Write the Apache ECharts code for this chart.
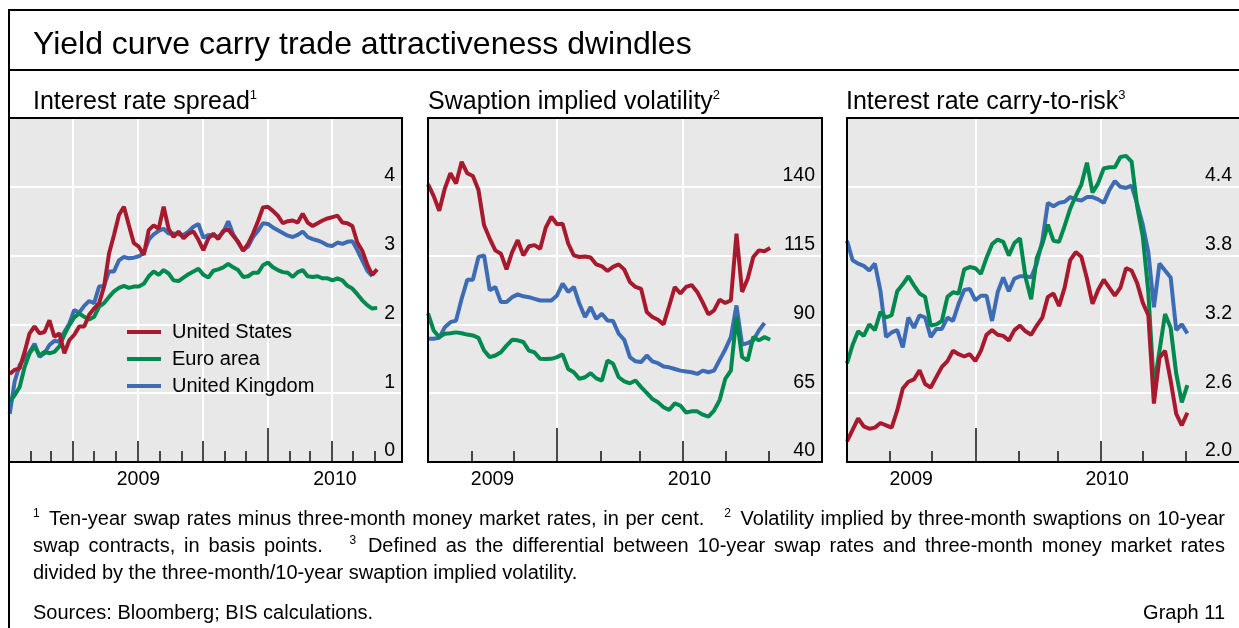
<!DOCTYPE html>
<html>
<head>
<meta charset="utf-8">
<script src="https://cdn.jsdelivr.net/npm/echarts@6.0.0/dist/echarts.min.js"></script>
<style>
  html, body { margin: 0; padding: 0; background: #fff; }
  body { width: 1239px; height: 628px; overflow: hidden; position: relative;
         font-family: "Liberation Sans", Arial, sans-serif; color: #000; }
  #chart { position: absolute; left: 0; top: 0; width: 1239px; height: 628px; }
  .line { position: absolute; background: #000; }
  .title { position: absolute; left: 33px; top: 27px; font-size: 32px; line-height: 32px; white-space: nowrap; }
  .ptitle { position: absolute; top: 88px; font-size: 25px; line-height: 24px; white-space: nowrap; }
  sup { font-size: 13px; line-height: 0; vertical-align: baseline; position: relative; top: -10px; }
  .notes { position: absolute; left: 33px; top: 505px; width: 1192px; font-size: 20px; line-height: 27px; }
  .notes sup { font-size: 12px; top: -8px; margin-right: 3px; }
  .just { text-align: justify; text-align-last: justify; }
  .src { position: absolute; left: 33px; top: 599px; width: 1192px; font-size: 20px; line-height: 27px; }
  .src span { float: right; }
</style>
</head>
<body>
<div id="chart"></div>
<div class="line" style="left:8px; top:9px; width:1240px; height:2px;"></div>
<div class="line" style="left:8px; top:9px; width:2px; height:630px;"></div>
<div class="line" style="left:8px; top:69px; width:1240px; height:2px;"></div>
<div class="title">Yield curve carry trade attractiveness dwindles</div>
<div class="ptitle" style="left:33px;">Interest rate spread<sup>1</sup></div>
<div class="ptitle" style="left:428px;">Swaption implied volatility<sup>2</sup></div>
<div class="ptitle" style="left:846px;">Interest rate carry-to-risk<sup>3</sup></div>
<div class="notes">
  <div class="just"><sup>1</sup> Ten-year swap rates minus three-month money market rates, in per cent. &nbsp; <sup>2</sup> Volatility implied by three-month swaptions on 10-year</div>
  <div class="just">swap contracts, in basis points. &nbsp; <sup>3</sup> Defined as the differential between 10-year swap rates and three-month money market rates</div>
  <div>divided by the three-month/10-year swaption implied volatility.</div>
</div>
<div class="src">Sources: Bloomberg; BIS calculations.<span>Graph 11</span></div>
<script>
// series names and colours
const names = ['United States', 'Euro area', 'United Kingdom'];
const colors = { 'United States': '#a8192d', 'Euro area': '#00894f', 'United Kingdom': '#3d6cb4' };

// interest rate spread, weekly from 2 Jan 2009, per cent
const usSpread = [1.28, 1.34, 1.36, 1.60, 1.87, 1.97, 1.87, 1.89, 2.06, 1.82, 1.87, 1.58, 1.77, 1.85, 1.97,
  1.97, 2.14, 2.23, 2.31, 2.55, 3.03, 3.30, 3.59, 3.71, 3.44, 3.18, 3.13, 3.01, 3.37, 3.44, 3.39, 3.71, 3.39,
  3.27, 3.35, 3.25, 3.32, 3.35, 3.23, 3.08, 3.25, 3.32, 3.24, 3.36, 3.38, 3.29, 3.20, 3.07, 3.17, 3.32, 3.50,
  3.70, 3.71, 3.65, 3.58, 3.47, 3.50, 3.51, 3.48, 3.61, 3.48, 3.43, 3.47, 3.51, 3.54, 3.56, 3.58, 3.48, 3.47,
  3.43, 3.19, 3.07, 2.87, 2.72, 2.80];
const euroSpread = [0.88, 0.97, 1.09, 1.38, 1.58, 1.68, 1.55, 1.60, 1.58, 1.60, 1.68, 1.85, 1.99, 2.10, 2.16,
  2.11, 2.07, 2.11, 2.26, 2.31, 2.40, 2.48, 2.53, 2.56, 2.53, 2.55, 2.55, 2.59, 2.70, 2.77, 2.72, 2.79, 2.74,
  2.64, 2.63, 2.68, 2.73, 2.77, 2.81, 2.72, 2.68, 2.78, 2.80, 2.83, 2.88, 2.83, 2.79, 2.69, 2.70, 2.75, 2.75,
  2.86, 2.90, 2.83, 2.79, 2.76, 2.75, 2.69, 2.76, 2.79, 2.70, 2.69, 2.70, 2.67, 2.67, 2.64, 2.67, 2.64, 2.56,
  2.52, 2.44, 2.35, 2.28, 2.23, 2.24];
const ukSpread = [0.70, 1.17, 1.41, 1.51, 1.60, 1.72, 1.53, 1.58, 1.70, 1.76, 1.75, 1.89, 2.01, 2.21, 2.17,
  2.27, 2.34, 2.31, 2.55, 2.56, 2.77, 2.77, 2.93, 2.98, 2.96, 2.97, 2.99, 3.04, 3.23, 3.31, 3.36, 3.39, 3.32,
  3.32, 3.31, 3.30, 3.35, 3.42, 3.46, 3.26, 3.30, 3.29, 3.27, 3.34, 3.50, 3.31, 3.19, 3.08, 3.13, 3.27, 3.36,
  3.47, 3.46, 3.41, 3.37, 3.33, 3.29, 3.27, 3.30, 3.35, 3.27, 3.24, 3.22, 3.19, 3.15, 3.14, 3.19, 3.17, 3.20,
  3.21, 3.08, 2.93, 2.78, 2.70];

// swaption implied volatility, every four days from 1 Oct 2009, basis points
const usVol = [141, 136.7, 131.3, 139.4, 144.9, 141.2, 149.1, 144.9, 143.9, 138.8, 126.0, 121.2, 116.9, 115.7,
  110.0, 116.3, 120.6, 115.1, 118.4, 118.8, 117.5, 125.2, 129.1, 126.4, 126.6, 119.4, 115.1, 114.5, 114.7,
  114.3, 111.8, 111.1, 109.4, 110.9, 111.8, 109.9, 105.4, 103.6, 102.9, 94.5, 92.7, 91.7, 90.0, 96.7, 103.6,
  101.2, 103.6, 104.3, 101.8, 97.9, 93.6, 95.1, 99.0, 97.8, 98.7, 123, 101.8, 106.6, 114.5, 116.9, 116.6, 117.8];
const euroVol = [94.0, 87.8, 85.4, 86.6, 86.8, 87.1, 86.8, 86.3, 86.0, 85.1, 80.5, 78.1, 78.7, 79.9, 82.3,
  84.4, 84.2, 83.6, 80.5, 79.8, 77.5, 77.4, 77.5, 78.1, 79.1, 73.8, 72.6, 70.2, 70.8, 72.3, 70.4, 69.6, 76.9,
  75.7, 70.8, 69.3, 68.6, 69.6, 67.2, 65.1, 62.9, 61.7, 59.9, 58.9, 61.3, 60.5, 58.0, 58.4, 58.4, 57.2, 56.5,
  58.7, 62.5, 70.2, 73.2, 92.7, 78.1, 76.9, 85.4, 84.2, 85.4, 84.4];
const ukVol = [84.8, 84.8, 85.1, 89.0, 90.8, 91.4, 99.3, 106.2, 106.2, 114.5, 115.1, 102.4, 103.6, 98.1, 98.1,
  99.9, 100.9, 100.2, 99.9, 99.3, 98.7, 98.7, 98.7, 100.5, 104.8, 101.8, 103.6, 97.5, 92.7, 96.3, 92.0, 93.9,
  91.4, 91.2, 86.6, 84.4, 78.1, 76.6, 76.3, 78.7, 76.6, 75.9, 74.7, 74.4, 73.8, 73.2, 72.9, 72.6, 72.0, 73.2,
  72.6, 73.2, 77.1, 80.9, 85.4, 96.9, 82.7, 83.2, 84.2, 87.8, 90.5];

// carry-to-risk, every four days from 1 Oct 2009
const usCarry = [2.18, 2.28, 2.38, 2.31, 2.29, 2.30, 2.34, 2.32, 2.30, 2.45, 2.64, 2.70, 2.72, 2.80, 2.68,
  2.65, 2.74, 2.83, 2.88, 2.97, 2.94, 2.92, 2.94, 2.88, 2.97, 3.11, 3.15, 3.11, 3.10, 3.06, 3.15, 3.19, 3.14,
  3.11, 3.19, 3.26, 3.44, 3.47, 3.36, 3.52, 3.76, 3.83, 3.79, 3.60, 3.38, 3.50, 3.59, 3.52, 3.45, 3.52, 3.69,
  3.67, 3.56, 3.39, 3.28, 2.51, 2.91, 2.97, 2.71, 2.42, 2.32, 2.43, 2.38];
const euroCarry = [2.86, 3.02, 3.14, 3.10, 3.20, 3.15, 3.31, 3.26, 3.28, 3.49, 3.55, 3.62, 3.54, 3.47, 3.44,
  3.19, 3.20, 3.23, 3.44, 3.48, 3.47, 3.68, 3.70, 3.69, 3.64, 3.78, 3.90, 3.94, 3.92, 3.80, 3.91, 3.95, 3.61,
  3.42, 3.78, 3.90, 4.07, 3.93, 3.92, 4.06, 4.21, 4.32, 4.42, 4.61, 4.35, 4.43, 4.56, 4.57, 4.57, 4.66, 4.67,
  4.62, 4.23, 3.97, 3.48, 2.65, 2.97, 3.29, 3.17, 2.77, 2.52, 2.67, 2.64];
const ukCarry = [3.93, 3.76, 3.73, 3.71, 3.67, 3.73, 3.49, 3.09, 3.13, 3.15, 3.00, 3.26, 3.17, 3.28, 3.26,
  3.09, 3.16, 3.16, 3.26, 3.23, 3.38, 3.50, 3.51, 3.41, 3.45, 3.45, 3.23, 3.48, 3.61, 3.49, 3.60, 3.62, 3.62,
  3.61, 3.73, 3.93, 4.26, 4.23, 4.26, 4.27, 4.31, 4.29, 4.28, 4.31, 4.31, 4.29, 4.26, 4.37, 4.45, 4.40, 4.39,
  4.41, 4.25, 4.07, 3.83, 3.35, 3.73, 3.67, 3.61, 3.15, 3.20, 3.12];

// y axis ranges: [min, max, step, decimals]
const yRanges = [[0, 5, 1, 0], [40, 165, 25, 0], [2.0, 5.0, 0.6, 1]];

function dates(y, m, d, step, n) {
  const out = [];
  for (let i = 0; i < n; i++) out.push(new Date(y, m, d + step * i).getTime());
  return out;
}
const p1Dates = dates(2009, 0, 2, 7, usSpread.length);
const p2Dates = dates(2009, 9, 1, 4, usVol.length);

const panels = [
  { min: new Date(2009, 0, 1).getTime(), dates: p1Dates,
    data: { 'United States': usSpread, 'Euro area': euroSpread, 'United Kingdom': ukSpread } },
  { min: new Date(2009, 9, 1).getTime(), dates: p2Dates,
    data: { 'United States': usVol, 'Euro area': euroVol, 'United Kingdom': ukVol } },
  { min: new Date(2009, 9, 1).getTime(), dates: p2Dates,
    data: { 'United States': usCarry, 'Euro area': euroCarry, 'United Kingdom': ukCarry } }
];
const xMax = new Date(2010, 6, 9).getTime();
const lastTick = new Date(2010, 5, 1).getTime();

const grids = [
  { left: 9, top: 118, width: 393, height: 344 },
  { left: 428, top: 118, width: 394, height: 344 },
  { left: 847, top: 118, width: 395, height: 344 }
];

function monthStarts(min, every) {
  const out = [];
  for (let m = 0; m < 24; m++) {
    const t = new Date(2009, m, 1).getTime();
    if (t > min && t <= lastTick && m % every === 0) out.push(t);
  }
  return out;
}
function yearCentres(min) {
  const out = [];
  for (let y = 2009; y <= 2010; y++) {
    const a = Math.max(min, new Date(y, 0, 1).getTime());
    const b = Math.min(xMax, new Date(y + 1, 0, 1).getTime());
    if (b > a) out.push((a + b) / 2);
  }
  return out;
}

const tickStyle = { color: '#111', width: 1.5 };
const xAxis = [], yAxis = [], series = [];
panels.forEach((p, g) => {
  // x is a plain value axis holding timestamps, so custom tick lists work
  const base = {
    type: 'value', gridIndex: g, min: p.min, max: xMax, position: 'bottom', scale: true,
    axisLine: { show: false }, axisLabel: { show: false }, axisTick: { show: false },
    splitLine: { show: false }, axisPointer: { show: false }
  };
  xAxis.push(
    { ...base, axisTick: { show: true, inside: true, length: 11, customValues: monthStarts(p.min, 1), lineStyle: tickStyle } },
    { ...base, axisTick: { show: true, inside: true, length: 21, customValues: monthStarts(p.min, 3), lineStyle: tickStyle },
      splitLine: { show: true, lineStyle: { color: '#fff', width: 2 } } },
    { ...base, axisTick: { show: true, inside: true, length: 34, customValues: monthStarts(p.min, 12), lineStyle: tickStyle } },
    { ...base, axisLabel: { show: true, customValues: yearCentres(p.min), margin: 8, fontSize: 19.5,
        color: '#000', fontFamily: 'Liberation Sans', formatter: v => String(new Date(v).getFullYear()) } }
  );
  const r = yRanges[g];
  yAxis.push({
    type: 'value', gridIndex: g, min: r[0], max: r[1], interval: r[2], position: 'right',
    axisLine: { show: false }, axisTick: { show: false },
    splitLine: { show: true, lineStyle: { color: '#fff', width: 2 } },
    axisLabel: { inside: true, margin: 7, showMaxLabel: false, fontSize: 19.5, color: '#000',
      fontFamily: 'Liberation Sans', verticalAlign: 'bottom', padding: [0, 0, 1, 0],
      formatter: v => v.toFixed(r[3]) }
  });
  ['United Kingdom', 'Euro area', 'United States'].forEach(n => {
    series.push({
      type: 'line', name: n, xAxisIndex: g * 4, yAxisIndex: g,
      data: p.data[n].map((v, i) => [p.dates[i], v]),
      showSymbol: false, symbol: 'none', animation: false,
      lineStyle: { width: 4, color: colors[n] }, itemStyle: { color: colors[n] }
    });
  });
});

const chart = echarts.init(document.getElementById('chart'));
chart.setOption({
  backgroundColor: 'transparent',
  animation: false,
  grid: grids.map(g => ({ ...g, show: true, backgroundColor: '#e8e8e8', borderWidth: 0 })),
  // black frame round each panel, drawn above the plot
  graphic: grids.map(g => ({
    type: 'rect', silent: true, z: 100,
    shape: { x: g.left, y: g.top, width: g.width, height: g.height },
    style: { fill: null, stroke: '#000', lineWidth: 2 }
  })),
  legend: {
    data: names, orient: 'vertical', left: 127, top: 322, padding: 0, icon: 'rect',
    itemWidth: 34, itemHeight: 4, itemGap: 7, selectedMode: false,
    textStyle: { fontSize: 20, color: '#000', fontFamily: 'Liberation Sans', lineHeight: 20, padding: [0, 0, 0, 6] }
  },
  xAxis: xAxis,
  yAxis: yAxis,
  series: series
});
</script>
</body>
</html>
